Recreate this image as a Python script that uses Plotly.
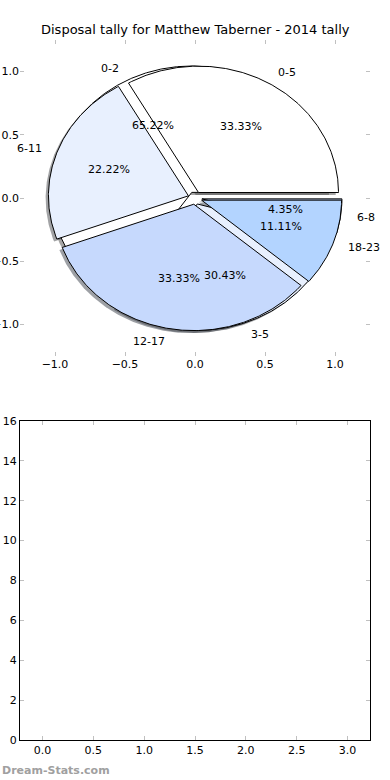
import numpy as np
import plotly.graph_objects as go

# ---------------- data ----------------
chart_title = "Disposal tally for Matthew Taberner - 2014 tally"
quarter_labels = ["0-5", "6-11", "12-17", "18-23"]
quarter_pcts = [33.33, 22.22, 33.33, 11.11]
period_labels = ["0-2", "3-5", "6-8"]
period_pcts = [65.22, 30.43, 4.35]
wedge_colors = ["#ffffff", "#e8f0fe", "#c6d9fd", "#b3d4ff"]
pie_ticks = [-1.0, -0.5, 0.0, 0.5, 1.0]
bar_yticks = [0, 2, 4, 6, 8, 10, 12, 14, 16]
bar_xticks = [0.0, 0.5, 1.0, 1.5, 2.0, 2.5, 3.0]
watermark = "Dream-Stats.com"

EXPLODE = 0.05
SHADOW = -0.02
LABEL_R = 1.1
PCT_R = 0.6
FONT = "DejaVu Sans"


def wedges(values):
    total = float(sum(values))
    out = []
    start = 0.0
    for v in values:
        span = 360.0 * v / total
        t1, t2 = start, start + span
        mid = np.deg2rad((t1 + t2) / 2)
        ox, oy = EXPLODE * np.cos(mid), EXPLODE * np.sin(mid)
        th = np.deg2rad(np.linspace(t1, t2, max(8, int(span * 2))))
        xs = np.concatenate([[ox], ox + np.cos(th), [ox]])
        ys = np.concatenate([[oy], oy + np.sin(th), [oy]])
        out.append(dict(x=xs, y=ys, mid=mid, ox=ox, oy=oy, v=v))
        start = t2
    return out


fig = go.Figure()

pie2 = wedges(period_pcts)
pie1 = wedges(quarter_pcts)

# shadows (drawn below all wedges)
for w, col in list(zip(pie2, wedge_colors)) + list(zip(pie1, wedge_colors)):
    r, g, b = [int(col[i:i + 2], 16) for i in (1, 3, 5)]
    fig.add_trace(go.Scatter(
        x=w["x"] + SHADOW, y=w["y"] + SHADOW, mode="lines", fill="toself",
        fillcolor=f"rgba({int(r*0.3)},{int(g*0.3)},{int(b*0.3)},0.5)",
        line=dict(width=0), hoverinfo="skip", showlegend=False,
        xaxis="x", yaxis="y"))

# second pie then first pie on top
for pie in (pie2, pie1):
    for w, col in zip(pie, wedge_colors):
        fig.add_trace(go.Scatter(
            x=w["x"], y=w["y"], mode="lines", fill="toself", fillcolor=col,
            line=dict(color="black", width=1), hoverinfo="skip",
            showlegend=False, xaxis="x", yaxis="y"))

annotations = []
for pie, labels in ((pie2, period_labels), (pie1, quarter_labels)):
    for w, lab in zip(pie, labels):
        lx = w["ox"] + LABEL_R * np.cos(w["mid"])
        ly = w["oy"] + LABEL_R * np.sin(w["mid"])
        annotations.append(dict(
            x=lx, y=ly, xref="x", yref="y", text=lab, showarrow=False,
            xanchor="left" if lx > 0 else "right", yanchor="middle",
            font=dict(family=FONT, size=11, color="black")))
        px = w["ox"] + PCT_R * np.cos(w["mid"])
        py = w["oy"] + PCT_R * np.sin(w["mid"])
        annotations.append(dict(
            x=px, y=py, xref="x", yref="y", text=f"{w['v']:.2f}%",
            showarrow=False, xanchor="center", yanchor="middle",
            font=dict(family=FONT, size=11, color="black")))

annotations.append(dict(
    x=0.5, y=1 - 30 / 780, xref="paper", yref="paper", text=chart_title,
    showarrow=False, xanchor="center", yanchor="middle",
    font=dict(family=FONT, size=13, color="black")))
annotations.append(dict(
    x=0.0, y=1 - 770 / 780, xref="paper", yref="paper", text=f"<b>{watermark}</b>",
    showarrow=False, xanchor="left", yanchor="middle",
    font=dict(family=FONT, size=11, color="#a0a0a0")))

# empty bottom axes
fig.add_trace(go.Scatter(x=[], y=[], xaxis="x2", yaxis="y2",
                         showlegend=False, hoverinfo="skip"))

tick_common = dict(ticks="inside", ticklen=4, tickcolor="#c0c0c0",
                   tickwidth=1, showgrid=False, zeroline=False,
                   automargin=False,
                   tickfont=dict(family=FONT, size=11, color="black"))

xd = [20 / 390, 370 / 390]
fig.update_layout(
    width=390, height=780,
    autosize=False,
    margin=dict(l=0, r=0, t=0, b=0, pad=0, autoexpand=False),
    paper_bgcolor="white", plot_bgcolor="rgba(0,0,0,0)",
    font=dict(family=FONT),
    showlegend=False,
    annotations=annotations,
    xaxis=dict(domain=xd, anchor="y", range=[-1.25, 1.25],
               tickvals=pie_ticks, tickformat=".1f", showline=False,
               mirror="ticks", **tick_common),
    yaxis=dict(domain=[1 - 356 / 780, 1 - 40 / 780], anchor="x",
               range=[-1.25, 1.25], tickvals=pie_ticks, tickformat=".1f",
               showline=False, mirror="ticks", **tick_common),
    xaxis2=dict(domain=xd, anchor="y2", range=[-0.22, 3.22],
                tickvals=bar_xticks, tickformat=".1f", showline=True,
                linecolor="black", linewidth=1, mirror="ticks", **tick_common),
    yaxis2=dict(domain=[1 - 740 / 780, 1 - 421 / 780], anchor="x2",
                range=[0, 16], tickvals=bar_yticks, showline=True,
                linecolor="black", linewidth=1, mirror="ticks", **tick_common),
)

fig.write_html(
    "out.html",
    config={"displayModeBar": False, "staticPlot": True},
    post_script="document.body.style.margin='0';document.body.style.padding='0';",
)
